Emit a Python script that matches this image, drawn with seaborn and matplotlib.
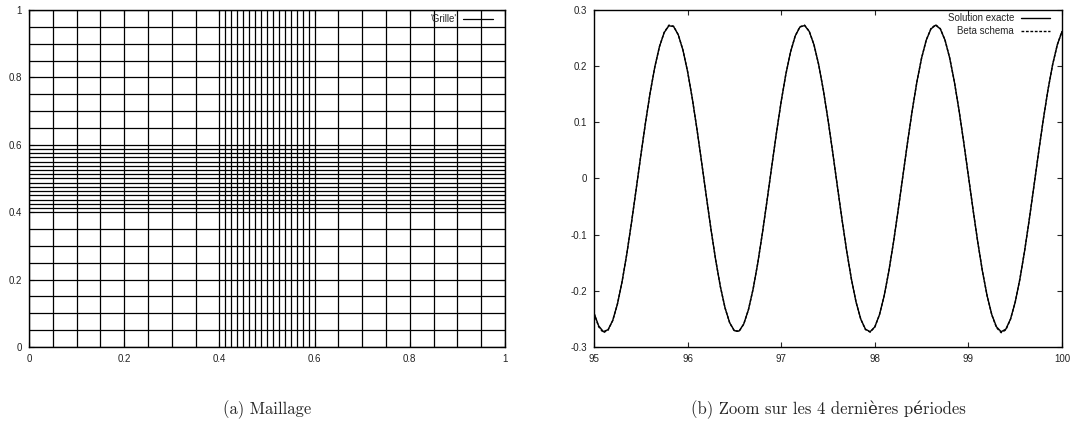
import matplotlib
matplotlib.use("Agg")
import matplotlib.pyplot as plt
import seaborn as sns
import pandas as pd

# ---------------- data ----------------
# (a) mesh lines (coarse step 0.05 outside [0.4, 0.6], fine step 0.0125 inside)
grid_x = [0.0, 0.05, 0.1, 0.15, 0.2, 0.25, 0.3, 0.35,
          0.4, 0.4125, 0.425, 0.4375, 0.45, 0.4625, 0.475, 0.4875, 0.5,
          0.5125, 0.525, 0.5375, 0.55, 0.5625, 0.575, 0.5875, 0.6,
          0.65, 0.7, 0.75, 0.8, 0.85, 0.9, 0.95, 1.0]
grid_y = [0.0, 0.05, 0.1, 0.15, 0.2, 0.25, 0.3, 0.35,
          0.4, 0.4125, 0.425, 0.4375, 0.45, 0.4625, 0.475, 0.4875, 0.5,
          0.5125, 0.525, 0.5375, 0.55, 0.5625, 0.575, 0.5875, 0.6,
          0.65, 0.7, 0.75, 0.8, 0.85, 0.9, 0.95, 1.0]
domain = [0.0, 1.0]
grid_label = "'Grille'"
a_ticks = [0.0, 0.2, 0.4, 0.6, 0.8, 1.0]
a_ticklabels = ["0", "0.2", "0.4", "0.6", "0.8", "1"]

# (b) last 4 periods
t = [95.0, 95.05, 95.1, 95.15, 95.2, 95.25, 95.3, 95.35, 95.4, 95.45,
     95.5, 95.55, 95.6, 95.65, 95.7, 95.75, 95.8, 95.85, 95.9, 95.95,
     96.0, 96.05, 96.1, 96.15, 96.2, 96.25, 96.3, 96.35, 96.4, 96.45,
     96.5, 96.55, 96.6, 96.65, 96.7, 96.75, 96.8, 96.85, 96.9, 96.95,
     97.0, 97.05, 97.1, 97.15, 97.2, 97.25, 97.3, 97.35, 97.4, 97.45,
     97.5, 97.55, 97.6, 97.65, 97.7, 97.75, 97.8, 97.85, 97.9, 97.95,
     98.0, 98.05, 98.1, 98.15, 98.2, 98.25, 98.3, 98.35, 98.4, 98.45,
     98.5, 98.55, 98.6, 98.65, 98.7, 98.75, 98.8, 98.85, 98.9, 98.95,
     99.0, 99.05, 99.1, 99.15, 99.2, 99.25, 99.3, 99.35, 99.4, 99.45,
     99.5, 99.55, 99.6, 99.65, 99.7, 99.75, 99.8, 99.85, 99.9, 99.95,
     100.0]
exact = [-0.2396, -0.2625, -0.2726, -0.2692, -0.2527, -0.2237, -0.1837, -0.1348, -0.0792, -0.0197,
         0.0408, 0.0992, 0.1528, 0.1988, 0.2351, 0.2599, 0.2719, 0.2706, 0.2560, 0.2288,
         0.1904, 0.1426, 0.0878, 0.0287, -0.0317, -0.0907, -0.1451, -0.1924, -0.2304, -0.2570,
         -0.2710, -0.2716, -0.2590, -0.2336, -0.1968, -0.1503, -0.0963, -0.0378, 0.0227, 0.0820,
         0.1374, 0.1860, 0.2254, 0.2538, 0.2697, 0.2724, 0.2617, 0.2382, 0.2030, 0.1577,
         0.1048, 0.0468, -0.0136, -0.0733, -0.1294, -0.1791, -0.2201, -0.2503, -0.2682, -0.2728,
         -0.2642, -0.2425, -0.2089, -0.1651, -0.1132, -0.0557, 0.0045, 0.0645, 0.1214, 0.1723,
         0.2146, 0.2465, 0.2663, 0.2730, 0.2663, 0.2465, 0.2147, 0.1723, 0.1214, 0.0646,
         0.0046, -0.0557, -0.1131, -0.1651, -0.2088, -0.2425, -0.2641, -0.2728, -0.2682, -0.2503,
         -0.2201, -0.1792, -0.1295, -0.0734, -0.0137, 0.0467, 0.1048, 0.1577, 0.2029, 0.2382,
         0.2617]
beta = [-0.2400, -0.2640, -0.2745, -0.2700, -0.2530, -0.2237, -0.1837, -0.1348, -0.0792, -0.0197,
        0.0408, 0.0992, 0.1528, 0.1988, 0.2351, 0.2602, 0.2730, 0.2712, 0.2560, 0.2288,
        0.1904, 0.1426, 0.0878, 0.0287, -0.0317, -0.0907, -0.1451, -0.1924, -0.2304, -0.2572,
        -0.2716, -0.2722, -0.2592, -0.2336, -0.1968, -0.1503, -0.0963, -0.0378, 0.0227, 0.0820,
        0.1374, 0.1860, 0.2254, 0.2540, 0.2702, 0.2730, 0.2620, 0.2382, 0.2030, 0.1577,
        0.1048, 0.0468, -0.0136, -0.0733, -0.1294, -0.1791, -0.2201, -0.2505, -0.2690, -0.2735,
        -0.2646, -0.2425, -0.2089, -0.1651, -0.1132, -0.0557, 0.0045, 0.0645, 0.1214, 0.1723,
        0.2146, 0.2467, 0.2670, 0.2738, 0.2668, 0.2465, 0.2147, 0.1723, 0.1214, 0.0646,
        0.0046, -0.0557, -0.1131, -0.1651, -0.2088, -0.2428, -0.2655, -0.2745, -0.2695, -0.2505,
        -0.2201, -0.1792, -0.1295, -0.0734, -0.0137, 0.0467, 0.1048, 0.1577, 0.2029, 0.2382,
        0.2620]
series_names = ["Solution exacte", "Beta schema"]
b_xticks = [95, 96, 97, 98, 99, 100]
b_xticklabels = ["95", "96", "97", "98", "99", "100"]
b_yticks = [-0.3, -0.2, -0.1, 0.0, 0.1, 0.2, 0.3]
b_yticklabels = ["-0.3", "-0.2", "-0.1", "0", "0.1", "0.2", "0.3"]

captions = ["(a) Maillage", "(b) Zoom sur les 4 dernières périodes"]

# ---------------- style ----------------
sns.set_style("ticks")
plt.rcParams["font.family"] = ["Liberation Sans", "DejaVu Sans"]
plt.rcParams["axes.linewidth"] = 1.0
plt.rcParams["axes.edgecolor"] = "black"

W, H = 1071, 444
fig = plt.figure(figsize=(W / 100, H / 100), dpi=100)
fig.patch.set_facecolor("white")

def px_axes(l, t_, r, b):
    return fig.add_axes([l / W, 1 - b / H, (r - l) / W, (b - t_) / H])

ax1 = px_axes(29, 10, 505, 347)
ax2 = px_axes(594, 10, 1062, 347)

# ---- (a) mesh ----
rows = []
for i, gx in enumerate(grid_x):
    for d in domain:
        rows.append({"line": f"v{i}", "x": gx, "y": d})
for j, gy in enumerate(grid_y):
    for d in domain:
        rows.append({"line": f"h{j}", "x": d, "y": gy})
df_grid = pd.DataFrame(rows)
sns.lineplot(data=df_grid, x="x", y="y", units="line", estimator=None, sort=False,
             color="black", linewidth=0.9, ax=ax1, legend=False)
ax1.set_xlim(domain)
ax1.set_ylim(domain)
ax1.set_xticks(a_ticks)
ax1.set_xticklabels(a_ticklabels)
ax1.set_yticks(a_ticks)
ax1.set_yticklabels(a_ticklabels)
ax1.legend([ax1.lines[0]], [grid_label], loc="upper right", frameon=False,
           markerfirst=False, bbox_to_anchor=(1 - 12 / 476, 1 - 4 / 337),
           borderpad=0, borderaxespad=0, handlelength=3.1, handletextpad=0.6,
           fontsize=7)

# ---- (b) zoom ----
df_b = pd.DataFrame({
    "t": t + t,
    "u": exact + beta,
    "series": [series_names[0]] * len(t) + [series_names[1]] * len(t),
})
sns.lineplot(data=df_b, x="t", y="u", hue="series", style="series",
             hue_order=series_names, style_order=series_names,
             palette={series_names[0]: "black", series_names[1]: "black"},
             dashes={series_names[0]: "", series_names[1]: (2, 1.2)},
             estimator=None, sort=False, linewidth=1.0, ax=ax2)
ax2.set_xlim(95, 100)
ax2.set_ylim(-0.3, 0.3)
ax2.set_xticks(b_xticks)
ax2.set_xticklabels(b_xticklabels)
ax2.set_yticks(b_yticks)
ax2.set_yticklabels(b_yticklabels)
h, l = ax2.get_legend_handles_labels()
ax2.legend(h, l, loc="upper right", frameon=False, markerfirst=False,
           bbox_to_anchor=(1 - 12 / 468, 1 - 3 / 337),
           borderpad=0, borderaxespad=0, handlelength=3.0, handletextpad=0.7,
           labelspacing=0.3, fontsize=7)

for ax in (ax1, ax2):
    ax.set_xlabel("")
    ax.set_ylabel("")
    ax.tick_params(direction="in", top=True, right=True, length=3.5, width=0.8,
                   labelsize=7, labelcolor="#222222", pad=5)
    for s in ax.spines.values():
        s.set_visible(True)
        s.set_color("black")
        s.set_linewidth(1.0)

# captions
fig.text(267 / W, 1 - 410 / H, captions[0], ha="center", va="center",
         fontsize=12, family=["cmr10", "DejaVu Serif"])
fig.text(828 / W, 1 - 410 / H, captions[1], ha="center", va="center",
         fontsize=12, family=["cmr10", "DejaVu Serif"])

fig.savefig("out.png", dpi=100, facecolor="white")
